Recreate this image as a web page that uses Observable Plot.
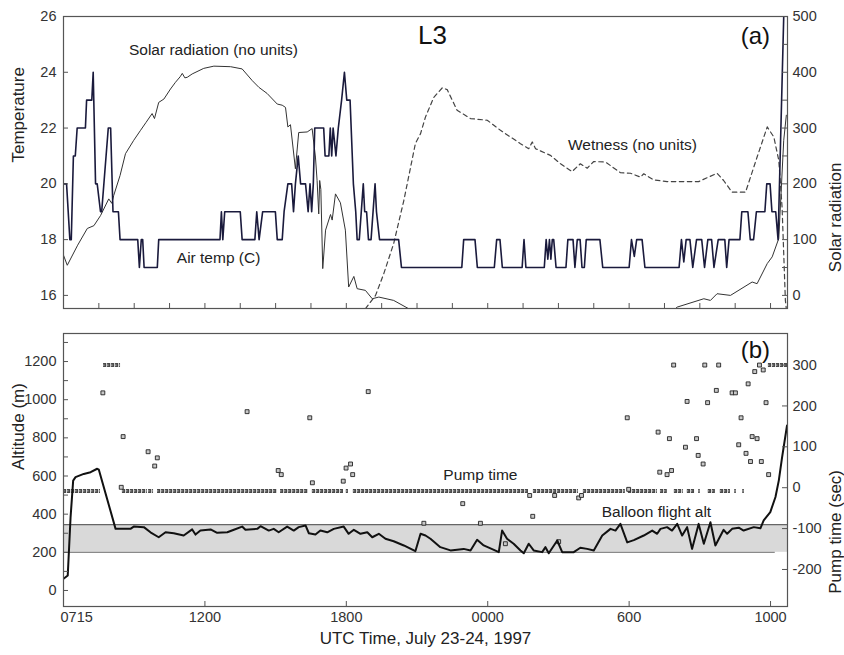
<!DOCTYPE html>
<html>
<head>
<meta charset="utf-8">
<script src="https://cdn.jsdelivr.net/npm/d3@7"></script>
<script src="https://cdn.jsdelivr.net/npm/@observablehq/plot@0.6"></script>
<style>
  html, body { margin: 0; padding: 0; background: #fff; }
  #chart svg { display: block; }
</style>
</head>
<body>
<div id="chart"></div>
<script>
// ---------- DATA ----------
// x: position along the time axis (6 units between labelled ticks)
const xTickValues = [0, 6, 12, 18, 24, 30];
const xTickLabels = ["0715", "1200", "1800", "0000", "600", "1000"];
const xMinorTicks = [0,1.5,3,4.5,6,7.5,9,10.5,12,13.5,15,16.5,18,19.5,21,22.5,24,25.5,27,28.5,30];

const tempTicks = [16, 18, 20, 22, 24, 26];
const solarTicks = [0, 100, 200, 300, 400, 500];
const solarMinorTicks = [0, 50, 100, 150, 200, 250, 300, 350, 400, 450, 500];
const altTicks = [0, 200, 400, 600, 800, 1000, 1200];
const altMinorTicks = [0,100,200,300,400,500,600,700,800,900,1000,1100,1200,1300];
const pumpTicks = [-200, -100, 0, 100, 200, 300];

// Air temperature (C)
const airTemp = [
  [0,20],[0.13,20],[0.27,18],[0.33,18],[0.42,21],[0.5,21],[0.58,22],[0.93,22],[0.98,23],[1.2,23],[1.26,24],[1.36,20],[1.43,20],[1.57,19],[1.62,19],[1.9,22],[2.0,22],[2.1,19],[2.33,19],[2.4,18],[3.15,18],[3.22,17],[3.3,18],[3.36,18],[3.42,17],[3.5,17],[3.98,17],[4.04,18],[6.64,18],[6.7,19],[6.76,18],[6.84,19],[7.5,19],[7.58,18],
  [8.12,18],[8.2,19],[8.3,18],[8.45,19],[8.99,19],[9.07,18],[9.28,18],[9.36,19],[9.52,20],[9.68,20],[9.76,19],[9.84,20],[9.96,21],[10.06,20],[10.27,20],[10.38,19],[10.46,20],[10.53,19],[10.6,20],[10.66,22],[11.04,22],[11.1,21],[11.26,21],[11.32,22],[11.38,21],[11.44,22],[11.56,21],[11.66,22],[11.8,23],[11.92,24],[12.02,23],[12.16,23],[12.3,20],[12.4,19],[12.46,18],[12.55,18],[12.72,20],[12.78,19],[12.86,19],[12.94,18],[13.05,18],[13.22,20],[13.28,19],[13.41,18],[14.22,18],[14.34,17],
  [16.9,17],[16.98,18],[17.46,18],[17.56,17],[18.28,17],[18.38,18],[18.52,18],[18.62,17],[19.46,17],[19.54,18],[19.62,17],[20.4,17],[20.48,18],[20.55,17.3],[20.62,18],[20.68,17.3],[20.74,18],[20.8,18],[20.9,17],[21.32,17],[21.4,18],[21.62,18],[21.7,17],[21.8,18],[21.92,18],[22.0,17],[22.1,17],[22.18,18],[22.76,18],[22.88,17],
  [24.0,17],[24.1,18],[24.22,17.4],[24.32,18],[24.55,18],[24.67,17],[26.12,17],[26.22,18],[26.32,17.2],[26.42,18],[26.58,18],[26.7,17],[26.86,18],[27.08,18],[27.2,17],[27.34,18],[27.5,18],[27.6,17],[27.78,18],[28.06,18],[28.14,17],[28.24,18],[28.7,18],[28.78,19],[29.04,19],[29.14,18],[29.28,18],[29.4,19],[29.76,19],[29.84,20],[29.98,20],[30.06,19],[30.22,19],[30.32,18],[30.56,26]
];

// Solar radiation (no units)
const solar = [
  [0,72],[0.16,54],[0.6,90],[1.01,120],[1.29,125],[1.57,143],[1.92,173],[2.05,165],[2.13,179],[2.4,215],[2.63,254],[2.98,278],[3.27,296],[3.5,310],[3.76,326],[3.86,317],[4.04,346],[4.26,352],[4.54,370],[4.75,382],[4.95,392],[5.04,398],[5.15,390],[5.25,391],[5.46,397],[5.95,407],[6.38,411],[7.09,410],[7.58,406],[8.01,385],[8.29,373],[8.64,362],[9.07,343],[9.28,341],[9.42,337],[9.52,302],[9.63,306],[9.84,227],[9.98,292],[10.34,293],[10.55,299],[10.69,248],[10.76,206],[10.83,146],[10.87,206],[10.92,190],[11.0,48],[11.12,117],[11.33,145],[11.4,135],[11.54,182],[11.75,166],[11.96,117],[12.1,15],[12.32,34],[12.46,12],[12.81,9],[13.1,-6],[13.38,-3],[14.01,-9],[14.65,-24],[15.5,-40],[25.5,-40],[26.04,-21],[27.17,-6],[27.45,-9],[27.73,3],[28.3,0],[29.22,24],[29.43,21],[29.86,57],[30.07,69],[30.35,102],[30.56,278],[30.67,323]
];

// Wetness (no units)
const wetness = [
  [12.81,-24],[13.24,0],[13.59,39],[14.01,93],[14.44,170],[14.93,272],[15.15,290],[15.36,320],[15.71,355],[16.07,372],[16.28,369],[16.7,332],[17.27,317],[17.98,314],[18.54,296],[19.39,272],[19.74,263],[19.89,275],[20.03,263],[20.66,251],[21.09,236],[21.58,222],[21.93,236],[22.22,228],[22.5,240],[23.0,239],[23.63,220],[24.06,219],[24.48,212],[24.62,218],[25.04,207],[25.61,204],[26.95,204],[27.73,219],[28.01,206],[28.37,185],[28.94,185],[29.43,248],[29.86,302],[30.14,284],[30.35,242],[30.49,158],[30.63,-9],[30.67,-24]
];

// Balloon flight altitude (m)
const balloonAlt = [
  [0,61],[0.18,79],[0.3,384],[0.41,576],[0.51,594],[0.86,611],[1.15,620],[1.43,638],[1.5,633],[2.21,323],[2.84,323],[2.98,335],[3.41,332],[3.69,305],[4.04,279],[4.33,305],[4.68,300],[5.1,288],[5.46,320],[5.6,293],[5.81,314],[6.24,320],[6.52,302],[6.95,305],[7.23,318],[7.58,335],[7.72,318],[8.22,323],[8.36,337],[8.71,314],[8.92,323],[9.13,305],[9.49,335],[9.77,314],[9.98,332],[10.27,341],[10.41,300],[10.69,293],[10.9,314],[11.19,305],[11.47,323],[11.89,335],[12.1,297],[12.32,318],[12.6,297],[12.89,305],[13.1,279],[13.38,297],[13.66,271],[14.01,258],[14.44,236],[14.93,206],[15.15,297],[15.36,288],[15.57,271],[15.99,227],[16.42,210],[16.98,218],[17.27,210],[17.55,266],[17.83,236],[18.26,213],[18.47,201],[18.61,314],[18.82,271],[19.1,245],[19.39,210],[19.53,195],[19.74,245],[19.95,210],[20.31,201],[20.45,227],[20.59,195],[20.95,262],[21.16,201],[21.65,201],[21.93,224],[22.22,218],[22.5,210],[22.86,288],[23.21,323],[23.42,314],[23.63,349],[23.92,252],[24.2,264],[24.62,288],[24.98,314],[25.19,297],[25.33,323],[25.61,332],[25.82,314],[26.04,349],[26.25,288],[26.46,332],[26.67,218],[26.95,349],[27.17,245],[27.45,358],[27.66,236],[28.01,318],[28.16,297],[28.37,323],[28.65,329],[28.86,314],[29.29,332],[29.57,326],[29.71,367],[29.99,411],[30.21,490],[30.35,576],[30.49,698],[30.7,865]
];

// Pump time (sec): runs of consecutive equal readings [xStart, xEnd, pump]
const pumpRuns = [
  [0,1.57,-8],[2.5,3.56,-8],[3.61,3.82,-8],[3.99,9.08,-8],[9.21,10.39,-8],[10.56,11.88,-8],[12.0,12.09,-8],[12.3,19.73,-8],[19.94,21.85,-8],[22.06,23.84,-8],[23.97,25.2,-8],[25.33,25.62,-8],[25.92,26.3,-8],[26.47,26.81,-8],[26.95,27.02,-8],[27.36,27.66,-8],[27.87,28.3,-8],[28.48,28.55,-8],[28.82,28.89,-8],
  [1.7,2.42,300],[29.91,30.72,300]
];
// Pump time (sec): isolated readings [x, pump]
const pumpPoints = [
  [1.67,232],[2.53,125],[2.45,1],[3.59,88],[3.98,73],[3.87,53],[7.79,186],[9.11,42],[9.24,32],[10.45,171],[10.56,12],[11.87,16],[11.99,48],[12.18,58],[12.27,32],[12.93,235],[15.29,-87],[16.94,-39],[17.69,-87],[18.75,-137],[19.78,-19],[19.91,-70],[20.84,-19],[21.01,-132],[21.86,-25],[21.98,-19],[23.92,171],[23.98,-4],[25.23,136],[25.3,38],[25.61,32],[25.8,42],[25.71,120],[25.89,300],[26.46,211],[26.39,99],[26.86,120],[26.93,79],[27.14,58],[27.21,300],[27.33,208],[27.7,238],[27.8,300],[28.37,232],[28.51,232],[28.65,105],[28.75,171],[28.96,84],[29.05,254],[29.15,64],[29.22,125],[29.43,120],[29.33,284],[29.53,300],[29.69,288],[29.61,64],[29.81,208],[29.92,32]
];

// Target altitude band (m)
const altBand = [{lo: 200, hi: 345}];

// ---------- LAYOUT ----------
const W = 844, ML = 63, MR = 57;
const plotW = W - ML - MR;
const xDomain = [0, 30.72];
const font = "'Liberation Sans', Arial, Helvetica, sans-serif";
const ink = "#333";
const frameColor = "#555";

// right-axis transforms
const solarToT = s => 16 + s / 50;
const pumpToAlt = p => 538.7 + 2.143 * p;

// ---------- PANEL (a) ----------
const topH = 320, topMT = 16, topMB = 12;
const topInner = topH - topMT - topMB;
const panelA = Plot.plot({
  width: W, height: topH,
  marginLeft: ML, marginRight: MR, marginTop: topMT, marginBottom: topMB,
  x: {domain: xDomain, axis: null},
  y: {domain: [15.53, 26], axis: null},
  style: {fontFamily: font, fontSize: "14.5px", color: ink, background: "#fff"},
  marks: [
    Plot.line(solar, {x: d => d[0], y: d => solarToT(d[1]), stroke: "#333", strokeWidth: 1, clip: true}),
    Plot.line(wetness, {x: d => d[0], y: d => solarToT(d[1]), stroke: "#444", strokeWidth: 1.2, strokeDasharray: "4.5,3.5", clip: true}),
    Plot.line(airTemp, {x: d => d[0], y: d => d[1], stroke: "#1a1a3c", strokeWidth: 1.6, clip: true}),
    Plot.tickX(xMinorTicks, {x: d => d, insetTop: topInner - 5, stroke: frameColor}),
    Plot.tickY(tempTicks, {y: d => d, insetRight: plotW - 5, stroke: frameColor}),
    Plot.tickY(solarMinorTicks, {y: d => solarToT(d), insetLeft: plotW - 5, stroke: frameColor}),
    Plot.axisY(tempTicks, {anchor: "left", tickSize: 0, tickPadding: 7, label: null, tickFormat: d => String(d)}),
    Plot.axisY(solarTicks.map(solarToT), {anchor: "right", tickSize: 0, tickPadding: 5, label: null, tickFormat: t => String(Math.round((t - 16) * 50))}),
    Plot.frame({stroke: frameColor, strokeWidth: 1.2}),
    Plot.text(["Temperature"], {frameAnchor: "left", dx: -45, rotate: -90, fontSize: 17, fill: "#222"}),
    Plot.text(["Solar radiation"], {frameAnchor: "right", dx: 48, rotate: -90, fontSize: 17, fill: "#222"}),
    Plot.text(["Solar radiation (no units)"], {x: 6.36, y: 24.78, fontSize: 15.5, fill: "#222"}),
    Plot.text(["L3"], {x: 15.66, y: 25.32, fontSize: 26, fill: "#111"}),
    Plot.text(["(a)"], {x: 29.36, y: 25.28, fontSize: 24, fill: "#111"}),
    Plot.text(["Wetness (no units)"], {x: 24.14, y: 21.38, fontSize: 15.5, fill: "#222"}),
    Plot.text(["Air temp (C)"], {x: 6.58, y: 17.33, fontSize: 15.5, fill: "#222"})
  ]
});

// ---------- PANEL (b) ----------
const botH = 335, botMT = 13, botMB = 49;
const botInner = botH - botMT - botMB;
const panelB = Plot.plot({
  width: W, height: botH,
  marginLeft: ML, marginRight: MR, marginTop: botMT, marginBottom: botMB,
  x: {domain: xDomain, axis: null},
  y: {domain: [-84, 1347], axis: null},
  style: {fontFamily: font, fontSize: "14.5px", color: ink, background: "#fff"},
  marks: [
    Plot.rect(altBand, {x1: 0, x2: xDomain[1], y1: d => d.lo, y2: d => d.hi, fill: "#d9d9d9"}),
    Plot.ruleY(altBand, {y: d => d.hi, stroke: "#666", strokeWidth: 1.2}),
    Plot.ruleY(altBand, {y: d => d.lo, x1: 0, x2: 30.2, stroke: "#8a8a8a", strokeWidth: 1.2}),
    Plot.ruleY(pumpRuns, {x1: d => d[0], x2: d => d[1], y: d => pumpToAlt(d[2]), stroke: "#4a4a4a", strokeWidth: 4, strokeDasharray: "3.2,0.8"}),
    Plot.ruleY(pumpRuns, {x1: d => d[0], x2: d => d[1], y: d => pumpToAlt(d[2]), stroke: "#aaa", strokeWidth: 1.2, strokeDasharray: "1.5,2.5"}),
    Plot.dot(pumpPoints, {x: d => d[0], y: d => pumpToAlt(d[1]), symbol: "square", r: 2.2, fill: "#c8c8c8", stroke: "#222", strokeWidth: 0.9}),
    Plot.line(balloonAlt, {x: d => d[0], y: d => d[1], stroke: "#111", strokeWidth: 2, clip: true}),
    Plot.tickX(xTickValues, {x: d => d, insetTop: botInner - 5, stroke: frameColor}),
    Plot.tickY(altMinorTicks, {y: d => d, insetRight: plotW - 5, stroke: frameColor}),
    Plot.tickY(pumpTicks.map(pumpToAlt), {y: d => d, insetLeft: plotW - 5, stroke: frameColor}),
    Plot.axisY(altTicks, {anchor: "left", tickSize: 0, tickPadding: 7, label: null, tickFormat: d => String(d)}),
    Plot.axisY(pumpTicks.map(pumpToAlt), {anchor: "right", tickSize: 0, tickPadding: 5, label: null, tickFormat: (d, i) => String(pumpTicks[i])}),
    Plot.axisX(xTickValues.slice(1), {anchor: "bottom", tickSize: 0, tickPadding: 5, label: null, tickFormat: d => xTickLabels[xTickValues.indexOf(d)]}),
    Plot.text([xTickLabels[0]], {x: xTickValues[0], frameAnchor: "bottom", lineAnchor: "top", dy: 5, dx: -3, textAnchor: "start"}),
    Plot.frame({stroke: frameColor, strokeWidth: 1.2}),
    Plot.text(["Altitude (m)"], {frameAnchor: "left", dx: -45, rotate: -90, fontSize: 17, fill: "#222"}),
    Plot.text(["Pump time (sec)"], {frameAnchor: "right", dx: 48, rotate: -90, fontSize: 17, fill: "#222"}),
    Plot.text(["UTC Time, July 23-24, 1997"], {frameAnchor: "bottom", dy: 37, fontSize: 17, fill: "#222"}),
    Plot.text(["(b)"], {x: 29.36, y: 1258, fontSize: 24, fill: "#111"}),
    Plot.text(["Pump time"], {x: 17.69, y: 603, fontSize: 15.5, fill: "#222"}),
    Plot.text(["Balloon flight alt"], {x: 25.16, y: 409, fontSize: 15.5, fill: "#222"})
  ]
});

const root = document.getElementById("chart");
root.appendChild(panelA);
root.appendChild(panelB);
</script>
</body>
</html>
